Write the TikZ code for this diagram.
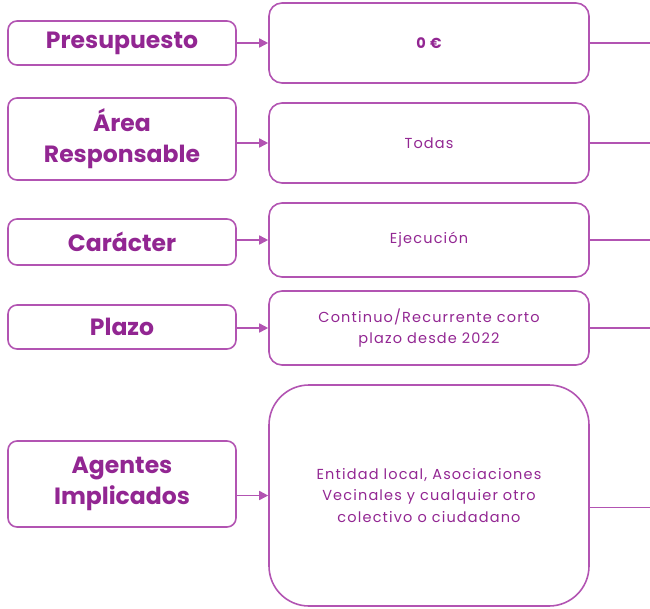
\documentclass[tikz,border=0pt]{standalone}
\usepackage{fontspec}
\setmainfont{Poppins}
\newfontfamily\ancho[LetterSpace=8]{Poppins}
\usetikzlibrary{arrows.meta}
\definecolor{morado}{RGB}{146,38,146}
\definecolor{moradoclaro}{RGB}{178,84,178}

\begin{document}
\begin{tikzpicture}[x=1pt,y=-1pt,
  etiqueta/.style={draw=moradoclaro, line width=1.6pt, rounded corners=9pt, minimum width=228pt, text=morado, font=\bfseries\fontsize{23.5}{31}\selectfont, align=center, inner sep=0pt},
  valor/.style={draw=moradoclaro, line width=1.6pt, rounded corners=13pt, minimum width=320pt, text=morado, font=\ancho\fontsize{14.5}{21.5}\selectfont, align=center, inner sep=0pt},
  flecha/.style={moradoclaro, line width=1.6pt, -{Triangle[length=9pt,width=9pt]}},
  salida/.style={moradoclaro, line width=1.6pt}]
\useasboundingbox (0,0) rectangle (650,608);
\coordinate (fin) at (650,0);
% columna izquierda
\node[etiqueta, minimum height=44pt] (pres) at (122,43) {Presupuesto};
\node[etiqueta, minimum height=82pt] (area) at (122,139) {Área\\Responsable};
\node[etiqueta, minimum height=46pt] (car) at (122,242) {Carácter};
\node[etiqueta, minimum height=44pt] (plazo) at (122,327) {Plazo};
\node[etiqueta, minimum height=86pt] (agentes) at (122,484) {Agentes\\Implicados};
% columna derecha
\node[valor, minimum height=80pt] (presv) at (429,43) {\bfseries 0 €};
\node[valor, minimum height=80pt] (areav) at (429,143) {Todas};
\node[valor, minimum height=74pt] (carv) at (429,240) {Ejecución};
\node[valor, minimum height=74pt] (plazov) at (429,328) {Continuo/Recurrente corto\\plazo desde 2022};
\node[valor, minimum height=221pt, rounded corners=40pt] (agentesv) at (429,495.5) {Entidad local, Asociaciones\\Vecinales y cualquier otro\\colectivo o ciudadano};
% flechas
\foreach \a in {pres,area,car,plazo,agentes}
  \draw[flecha] (\a v.west -| \a.east) -- (\a v.west);
\foreach \a in {presv,areav,carv,plazov}
  \draw[salida] (\a.east) -- (\a.east -| fin);
\draw[salida] ([yshift=-12pt]agentesv.east) -- ([yshift=-12pt]agentesv.east -| fin);
\end{tikzpicture}
\end{document}
